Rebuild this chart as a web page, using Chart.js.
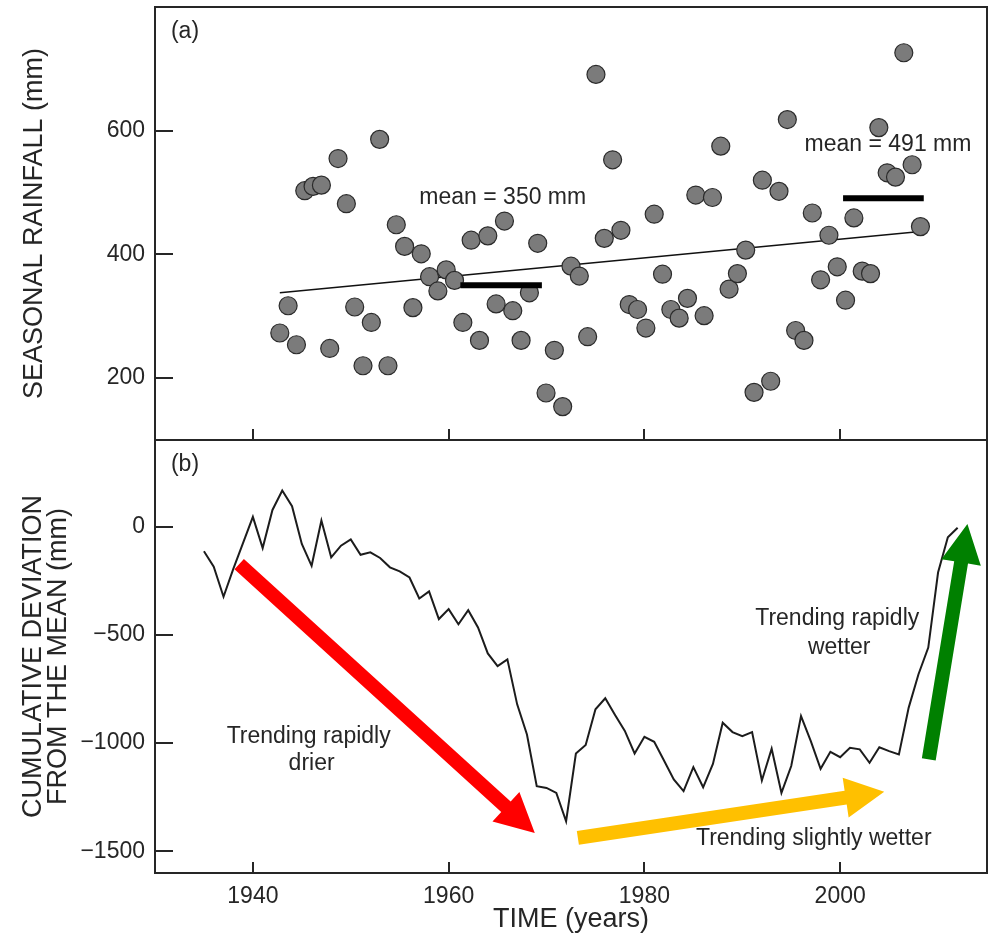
<!DOCTYPE html>
<html>
<head>
<meta charset="utf-8">
<script src="https://cdn.jsdelivr.net/npm/chart.js@4.4.1/dist/chart.umd.min.js"></script>
<style>
  html, body { margin: 0; padding: 0; background: #fff; }
  #wrap { position: relative; width: 992px; height: 936px; }
  .box { position: absolute; left: 0; width: 992px; }
</style>
</head>
<body>
<div id="wrap">
  <div class="box" style="top:0;height:440px"><canvas id="rainChart"></canvas></div>
  <div class="box" style="top:440px;height:496px"><canvas id="devChart"></canvas></div>
</div>
<script>
// ---- data ----
const years = [1935, 1936, 1937, 1938, 1939, 1940, 1941, 1942, 1943, 1944,
  1945, 1946, 1947, 1948, 1949, 1950, 1951, 1952, 1953, 1954,
  1955, 1956, 1957, 1958, 1959, 1960, 1961, 1962, 1963, 1964,
  1965, 1966, 1967, 1968, 1969, 1970, 1971, 1972, 1973, 1974,
  1975, 1976, 1977, 1978, 1979, 1980, 1981, 1982, 1983, 1984,
  1985, 1986, 1987, 1988, 1989, 1990, 1991, 1992, 1993, 1994,
  1995, 1996, 1997, 1998, 1999, 2000, 2001, 2002, 2003, 2004,
  2005, 2006, 2007, 2008, 2009, 2010, 2011, 2012];

// seasonal rainfall (mm), panel (a)
const rainfall = [273, 317, 254, 503, 510, 512, 248, 555, 482, 315,
  220, 290, 586, 220, 448, 413, 314, 401, 364, 341,
  375, 358, 290, 423, 261, 430, 320, 454, 309, 261,
  338, 418, 176, 245, 154, 381, 365, 267, 691, 426,
  553, 439, 319, 311, 281, 465, 368, 311, 297, 329,
  496, 301, 492, 575, 344, 369, 407, 177, 520, 195,
  502, 618, 277, 261, 467, 359, 431, 380, 326, 459,
  373, 369, 605, 532, 525, 726, 545, 445];

// cumulative deviation from the mean (mm), panel (b)
const cumDeviation = [-114, -185, -324, -195, -75, 45, -99, 77, 167, 94,
  -80, -181, 28, -142, -88, -59, -130, -119, -145, -188,
  -207, -235, -332, -299, -427, -381, -451, -386, -466, -586,
  -644, -613, -821, -960, -1199, -1207, -1230, -1361, -1048, -1009,
  -844, -793, -870, -944, -1048, -971, -994, -1080, -1168, -1222,
  -1111, -1204, -1096, -906, -949, -968, -949, -1173, -1026, -1230,
  -1106, -875, -991, -1119, -1040, -1065, -1022, -1029, -1091, -1019,
  -1037, -1052, -836, -682, -559, -212, -49, -5];

const trendYears = [1935, 2012];
const trendValues = [338, 437];

const dryMeanYears = [1956.7, 1966.5];
const dryMean = 350;
const wetMeanYears = [2002.7, 2012.4];
const wetMean = 491;

const timeTicks = [1940, 1960, 1980, 2000];
const rainTicks = [200, 400, 600];
const devTicks = [-1500, -1000, -500, 0];

const rainNoteText = ['mean = 350 mm', 'mean = 491 mm'];
const rainNoteX = [1961.8, 2008.1];
const rainNoteY = [491, 578];

const devNoteText = ['Trending rapidly', 'drier', 'Trending rapidly', 'wetter', 'Trending slightly wetter'];
const devNoteX = [1945.7, 1946.0, 1999.7, 1999.9, 1997.3];
const devNoteY = [-968, -1096, -427, -559, -1441];

// trend arrows in panel (b): start, end (year, mm)
const arrowStart = [[1938.6, -173], [1973.2, -1438], [2009.05, -1075]];
const arrowEnd = [[1968.8, -1415], [2004.5, -1225], [2013.0, 12]];
const arrowColors = ['#ff0000', '#ffc000', '#008000'];

// ---- drawing helpers ----
const family = "'Liberation Sans', Arial, Helvetica, sans-serif";
const ink = '#262626';

function fixTicks(values) {
  return function (scale) { scale.ticks = values.map(v => ({ value: v })); };
}
function minusLabel(v) {
  return v < 0 ? '\u2212' + Math.abs(v) : String(v);
}
// size a scale exactly and drop the label overhang padding
function sizeScale(w, h) {
  return function (s) {
    if (w !== null) s.width = w;
    if (h !== null) s.height = h;
    s.paddingTop = 0; s.paddingBottom = 0; s.paddingLeft = 0; s.paddingRight = 0;
  };
}

// frame box plus short inward tick marks
const framePlugin = {
  id: 'frame',
  afterDatasetsDraw(chart, args, opts) {
    const { ctx, chartArea: a } = chart;
    const xs = chart.scales.x, ys = chart.scales.y;
    ctx.save();
    ctx.strokeStyle = ink;
    ctx.lineWidth = 2;
    ctx.beginPath();
    opts.yTicks.forEach(v => {
      const p = Math.round(ys.getPixelForValue(v));
      ctx.moveTo(a.left, p); ctx.lineTo(a.left + 18, p);
    });
    opts.xTicks.forEach(v => {
      const p = Math.round(xs.getPixelForValue(v));
      ctx.moveTo(p, a.bottom); ctx.lineTo(p, a.bottom - 11);
    });
    ctx.stroke();
    ctx.strokeRect(a.left, a.top, a.right - a.left, a.bottom - a.top);
    // panel letter
    ctx.fillStyle = ink;
    ctx.font = '23px ' + family;
    ctx.textAlign = 'center';
    ctx.textBaseline = 'middle';
    ctx.fillText(opts.panel, a.left + 30, a.top + 25);
    ctx.restore();
  }
};

const notesPlugin = {
  id: 'notes',
  afterDatasetsDraw(chart, args, opts) {
    const { ctx } = chart;
    const xs = chart.scales[opts.xAxis], ys = chart.scales.y;
    ctx.save();
    ctx.fillStyle = ink;
    ctx.font = '23px ' + family;
    ctx.textAlign = 'center';
    ctx.textBaseline = 'middle';
    opts.text.forEach((t, i) => {
      ctx.fillText(t, xs.getPixelForValue(opts.x[i]), ys.getPixelForValue(opts.y[i]));
    });
    ctx.restore();
  }
};

function drawArrow(ctx, x0, y0, x1, y1, color) {
  const len = Math.hypot(x1 - x0, y1 - y0);
  const ux = (x1 - x0) / len, uy = (y1 - y0) / len;
  const nx = -uy, ny = ux;
  const hw = 7, headLen = 39, headHalf = 20;
  const bx = x1 - ux * headLen, by = y1 - uy * headLen;
  ctx.beginPath();
  ctx.moveTo(x0 + nx * hw, y0 + ny * hw);
  ctx.lineTo(bx + nx * hw, by + ny * hw);
  ctx.lineTo(bx + nx * headHalf, by + ny * headHalf);
  ctx.lineTo(x1, y1);
  ctx.lineTo(bx - nx * headHalf, by - ny * headHalf);
  ctx.lineTo(bx - nx * hw, by - ny * hw);
  ctx.lineTo(x0 - nx * hw, y0 - ny * hw);
  ctx.closePath();
  ctx.fillStyle = color;
  ctx.fill();
}

const arrowPlugin = {
  id: 'arrows',
  afterDatasetsDraw(chart) {
    const { ctx } = chart;
    const xs = chart.scales.x, ys = chart.scales.y;
    ctx.save();
    arrowStart.forEach((s, i) => {
      const e = arrowEnd[i];
      drawArrow(ctx, xs.getPixelForValue(s[0]), ys.getPixelForValue(s[1]),
        xs.getPixelForValue(e[0]), ys.getPixelForValue(e[1]), arrowColors[i]);
    });
    ctx.restore();
  }
};

const tickFont = { family: family, size: 23 };
const titleFont = { family: family, size: 27 };

// ---- panel (a): seasonal rainfall ----
new Chart(document.getElementById('rainChart'), {
  type: 'scatter',
  data: {
    datasets: [
      {
        type: 'line',
        data: dryMeanYears.map(x => ({ x: x, y: dryMean })),
        xAxisID: 'xs', borderColor: '#000', borderWidth: 6, pointRadius: 0, order: 0
      },
      {
        type: 'line',
        data: wetMeanYears.map(x => ({ x: x, y: wetMean })),
        xAxisID: 'xs', borderColor: '#000', borderWidth: 6, pointRadius: 0, order: 0
      },
      {
        type: 'scatter',
        data: years.map((x, i) => ({ x: x, y: rainfall[i] })),
        xAxisID: 'xs', backgroundColor: '#7b7b7b', borderColor: '#2b2b2b',
        borderWidth: 1.2, pointRadius: 9, order: 1
      },
      {
        type: 'line',
        data: trendYears.map((x, i) => ({ x: x, y: trendValues[i] })),
        xAxisID: 'xs', borderColor: '#111', borderWidth: 1.5, pointRadius: 0, order: 2
      }
    ]
  },
  options: {
    responsive: true,
    maintainAspectRatio: false,
    animation: false,
    layout: { autoPadding: false, padding: { left: 0, right: 5, top: 7, bottom: 0 } },
    plugins: {
      legend: { display: false },
      tooltip: { enabled: false },
      frame: { xTicks: timeTicks, yTicks: rainTicks, panel: '(a)' },
      notes: { xAxis: 'xs', text: rainNoteText, x: rainNoteX, y: rainNoteY }
    },
    scales: {
      xs: { type: 'linear', display: false, min: 1920, max: 2020, afterFit: sizeScale(null, 0) },
      x: { type: 'linear', display: false, min: 1930, max: 2015, afterFit: sizeScale(null, 0) },
      y: {
        type: 'linear', position: 'left', min: 100, max: 800,
        afterBuildTicks: fixTicks(rainTicks),
        afterFit: sizeScale(155, null),
        grid: { display: false, drawTicks: false },
        border: { display: false },
        ticks: { font: tickFont, color: ink, padding: 10 },
        title: {
          display: true, text: 'SEASONAL RAINFALL (mm)', font: titleFont, color: ink,
          padding: { top: 18, bottom: 0 }
        }
      }
    }
  },
  plugins: [framePlugin, notesPlugin]
});

// ---- panel (b): cumulative deviation ----
new Chart(document.getElementById('devChart'), {
  type: 'line',
  data: {
    datasets: [{
      data: years.map((x, i) => ({ x: x, y: cumDeviation[i] })),
      borderColor: '#1c1c1c', borderWidth: 2, pointRadius: 0, tension: 0, fill: false
    }]
  },
  options: {
    responsive: true,
    maintainAspectRatio: false,
    animation: false,
    layout: { autoPadding: false, padding: { left: 0, right: 5, top: 0, bottom: 0 } },
    plugins: {
      legend: { display: false },
      tooltip: { enabled: false },
      frame: { xTicks: timeTicks, yTicks: devTicks, panel: '(b)' },
      notes: { xAxis: 'x', text: devNoteText, x: devNoteX, y: devNoteY }
    },
    scales: {
      x: {
        type: 'linear', min: 1930, max: 2015,
        afterBuildTicks: fixTicks(timeTicks),
        afterFit: sizeScale(null, 63),
        grid: { display: false, drawTicks: false },
        border: { display: false },
        ticks: { font: tickFont, color: ink, padding: 10, callback: v => String(v) },
        title: {
          display: true, text: 'TIME (years)', font: titleFont, color: ink,
          padding: { top: 0, bottom: 0 }
        }
      },
      y: {
        type: 'linear', position: 'left', min: -1600, max: 400,
        afterBuildTicks: fixTicks(devTicks),
        afterFit: sizeScale(155, null),
        grid: { display: false, drawTicks: false },
        border: { display: false },
        ticks: { font: tickFont, color: ink, padding: 10, callback: minusLabel },
        title: {
          display: true, text: ['CUMULATIVE DEVIATION', 'FROM THE MEAN (mm)'],
          font: { family: family, size: 27, lineHeight: '25px' }, color: ink,
          padding: { top: 21, bottom: 0 }
        }
      }
    }
  },
  plugins: [framePlugin, notesPlugin, arrowPlugin]
});
</script>
</body>
</html>
